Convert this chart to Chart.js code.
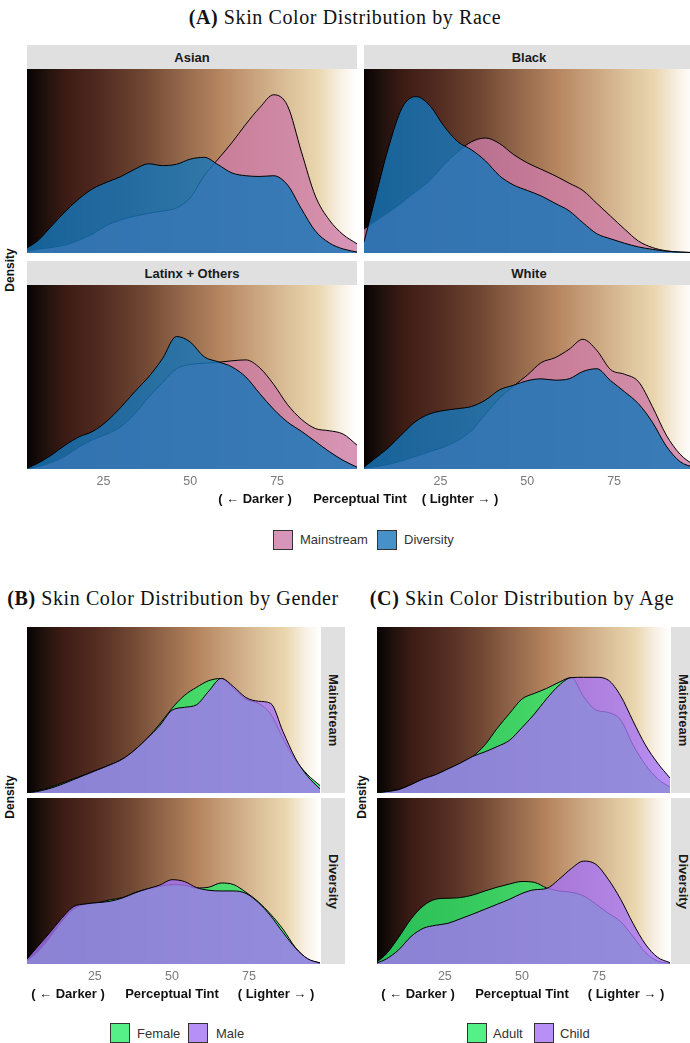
<!DOCTYPE html>
<html>
<head>
<meta charset="utf-8">
<script src="https://cdn.jsdelivr.net/npm/chart.js@4.4.0/dist/chart.umd.min.js"></script>
<style>
body { margin:0; width:690px; height:1043px; overflow:hidden; background:#fff; position:relative; font-family:"Liberation Sans", Arial, sans-serif; }
canvas { position:absolute; }
.title { position:absolute; font-family:"Liberation Serif", serif; font-size:20px; letter-spacing:0.6px; color:#111; white-space:nowrap; transform:translate(-50%,-50%); }
.strip { position:absolute; background:#e0e0e0; font-weight:bold; font-size:13px; color:#1a1a1a; display:flex; align-items:center; justify-content:center; white-space:nowrap; }
.vstrip { writing-mode:vertical-rl; }
.ylab { position:absolute; font-weight:bold; font-size:12px; color:#111; white-space:nowrap; transform:translate(-50%,-50%) rotate(-90deg); }
.xlab { position:absolute; font-weight:bold; font-size:13px; color:#111; white-space:nowrap; transform:translate(-50%,-50%); }
.key { position:absolute; width:18px; height:18px; border:1px solid #333; }
.ltxt { position:absolute; font-size:13px; color:#333; white-space:nowrap; transform:translateY(-50%); }
</style>
</head>
<body>
<script>
// perceptual tint grid (x) and density (fraction of panel height)
const tint = [3, 6, 10, 14, 18, 22, 26, 30, 34, 38, 42, 46, 50, 54, 58, 62, 66, 70, 74, 78, 82, 86, 90, 94, 98];
const tickValues = [25, 50, 75];

// (A) by race
const asianMainstream = [0.01, 0.02, 0.03, 0.043, 0.07, 0.105, 0.15, 0.18, 0.2, 0.215, 0.228, 0.245, 0.3, 0.42, 0.51, 0.6, 0.7, 0.79, 0.86, 0.8, 0.55, 0.31, 0.18, 0.1, 0.05];
const asianDiversity = [0.027, 0.065, 0.145, 0.225, 0.295, 0.35, 0.385, 0.415, 0.455, 0.485, 0.475, 0.482, 0.51, 0.52, 0.48, 0.435, 0.42, 0.416, 0.42, 0.37, 0.24, 0.12, 0.055, 0.022, 0.005];
const blackMainstream = [0.13, 0.17, 0.22, 0.275, 0.335, 0.395, 0.48, 0.55, 0.605, 0.625, 0.595, 0.536, 0.49, 0.455, 0.42, 0.38, 0.34, 0.27, 0.2, 0.13, 0.065, 0.03, 0.012, 0.005, 0.002];
const blackDiversity = [0.06, 0.28, 0.57, 0.79, 0.85, 0.8, 0.69, 0.605, 0.56, 0.5, 0.42, 0.37, 0.34, 0.31, 0.27, 0.23, 0.165, 0.105, 0.077, 0.053, 0.033, 0.02, 0.01, 0.005, 0.002];
const latinxMainstream = [0.0, 0.012, 0.035, 0.07, 0.12, 0.16, 0.19, 0.23, 0.3, 0.39, 0.47, 0.545, 0.568, 0.575, 0.58, 0.588, 0.593, 0.55, 0.46, 0.35, 0.27, 0.22, 0.208, 0.19, 0.13];
const latinxDiversity = [0.004, 0.03, 0.075, 0.13, 0.175, 0.205, 0.26, 0.335, 0.42, 0.5, 0.6, 0.72, 0.69, 0.61, 0.583, 0.555, 0.5, 0.41, 0.325, 0.255, 0.205, 0.15, 0.095, 0.047, 0.01];
const whiteMainstream = [0.004, 0.012, 0.025, 0.045, 0.07, 0.095, 0.12, 0.155, 0.21, 0.3, 0.385, 0.45, 0.51, 0.578, 0.605, 0.65, 0.705, 0.645, 0.54, 0.515, 0.475, 0.34, 0.185, 0.08, 0.02];
const whiteDiversity = [0.01, 0.055, 0.115, 0.19, 0.26, 0.3, 0.318, 0.328, 0.34, 0.375, 0.43, 0.455, 0.48, 0.49, 0.483, 0.49, 0.53, 0.545, 0.48, 0.42, 0.355, 0.255, 0.125, 0.04, 0.008];

// (B) by gender
const mainFemale = [0.004, 0.012, 0.03, 0.057, 0.085, 0.112, 0.142, 0.17, 0.205, 0.26, 0.33, 0.415, 0.51, 0.587, 0.637, 0.677, 0.69, 0.63, 0.565, 0.54, 0.475, 0.33, 0.2, 0.11, 0.045];
const mainMale = [0.0, 0.008, 0.025, 0.05, 0.08, 0.11, 0.14, 0.17, 0.205, 0.26, 0.33, 0.405, 0.498, 0.516, 0.532, 0.615, 0.69, 0.64, 0.575, 0.553, 0.54, 0.37, 0.21, 0.1, 0.025];
const divFemale = [0.02, 0.065, 0.15, 0.25, 0.33, 0.36, 0.37, 0.387, 0.4, 0.43, 0.452, 0.467, 0.478, 0.475, 0.458, 0.463, 0.488, 0.478, 0.432, 0.375, 0.3, 0.21, 0.1, 0.03, 0.006];
const divMale = [0.03, 0.095, 0.18, 0.27, 0.345, 0.362, 0.37, 0.378, 0.398, 0.428, 0.453, 0.475, 0.508, 0.497, 0.46, 0.444, 0.44, 0.44, 0.425, 0.37, 0.29, 0.19, 0.097, 0.032, 0.006];

// (C) by age
const mainAdult = [0.004, 0.01, 0.022, 0.05, 0.085, 0.11, 0.145, 0.18, 0.22, 0.29, 0.39, 0.48, 0.566, 0.6, 0.63, 0.667, 0.695, 0.58, 0.5, 0.485, 0.44, 0.29, 0.17, 0.085, 0.035];
const mainChild = [0.0, 0.008, 0.02, 0.05, 0.085, 0.11, 0.145, 0.18, 0.22, 0.248, 0.28, 0.318, 0.394, 0.475, 0.568, 0.648, 0.695, 0.697, 0.697, 0.68, 0.585, 0.434, 0.29, 0.18, 0.09];
const divAdult = [0.012, 0.06, 0.16, 0.27, 0.35, 0.39, 0.396, 0.4, 0.415, 0.44, 0.463, 0.482, 0.497, 0.492, 0.458, 0.44, 0.432, 0.41, 0.36, 0.305, 0.255, 0.165, 0.07, 0.018, 0.003];
const divChild = [0.006, 0.03, 0.085, 0.165, 0.215, 0.233, 0.245, 0.272, 0.3, 0.33, 0.36, 0.39, 0.425, 0.447, 0.455, 0.51, 0.575, 0.62, 0.6, 0.51, 0.39, 0.245, 0.12, 0.04, 0.008];

const pink = 'rgba(205,124,167,0.8)';
const blue = 'rgba(22,118,186,0.82)';
const green = 'rgba(42,236,106,0.8)';
const purple = 'rgba(165,115,245,0.8)';

const skinStops = [[0, '#050202'], [0.05, '#1e100c'], [0.12, '#3d1c15'], [0.22, '#512a20'], [0.35, '#6f4632'],
  [0.48, '#966a4c'], [0.58, '#b5845e'], [0.68, '#c7a07a'], [0.8, '#dcc29c'], [0.88, '#ead6ae'], [0.95, '#f8f0e4'], [1, '#ffffff']];

const skinBackground = {
  id: 'skinBackground',
  beforeDraw(chart) {
    const {ctx, chartArea: a} = chart;
    const g = ctx.createLinearGradient(a.left, 0, a.right, 0);
    skinStops.forEach(s => g.addColorStop(s[0], s[1]));
    ctx.save();
    ctx.fillStyle = g;
    ctx.fillRect(a.left, a.top, a.right - a.left, a.bottom - a.top);
    ctx.restore();
  }
};

function el(cls, html, css) {
  const d = document.createElement('div');
  d.className = cls;
  d.innerHTML = html;
  Object.assign(d.style, css);
  document.body.appendChild(d);
  return d;
}

function panel(left, top, width, height, under, over, withTicks) {
  const h = height + (withTicks ? 22 : 0);
  const box = document.createElement('div');
  Object.assign(box.style, {position: 'absolute', left: left + 'px', top: top + 'px', width: width + 'px', height: h + 'px'});
  document.body.appendChild(box);
  const cv = document.createElement('canvas');
  box.appendChild(cv);
  const ds = (vals, color, order) => ({
    data: tint.map((x, i) => ({x: x, y: vals[i]})),
    backgroundColor: color, borderColor: '#000', borderWidth: 1,
    fill: 'origin', pointRadius: 0, cubicInterpolationMode: 'monotone', order: order
  });
  new Chart(cv, {
    type: 'line',
    data: {datasets: [ds(under[0], under[1], 2), ds(over[0], over[1], 1)]},
    options: {
      responsive: true, maintainAspectRatio: false, animation: false, events: [],
      layout: {padding: 0},
      plugins: {legend: {display: false}, tooltip: {enabled: false}},
      scales: {
        x: {
          type: 'linear', min: 3, max: 98, display: withTicks,
          grid: {display: false, drawTicks: false}, border: {display: false},
          afterBuildTicks: s => { s.ticks = tickValues.map(v => ({value: v})); },
          afterFit: s => { if (withTicks) s.height = 22; },
          ticks: {padding: 5, color: '#7a7a7a', font: {size: 12.5, family: '"Liberation Sans", Arial, sans-serif'}}
        },
        y: {min: 0, max: 1, display: false}
      }
    },
    plugins: [skinBackground]
  });
}

// ---- (A) race ----
el('title', '<b>(A)</b> Skin Color Distribution by Race', {left: '345px', top: '17px'});
el('strip', 'Asian', {left: '27px', top: '45px', width: '330px', height: '24px'});
el('strip', 'Black', {left: '364px', top: '45px', width: '330px', height: '24px'});
el('strip', 'Latinx + Others', {left: '27px', top: '261px', width: '330px', height: '24px'});
el('strip', 'White', {left: '364px', top: '261px', width: '330px', height: '24px'});
panel(27, 69, 330, 184, [asianMainstream, pink], [asianDiversity, blue], false);
panel(364, 69, 330, 184, [blackMainstream, pink], [blackDiversity, blue], false);
panel(27, 285, 330, 184, [latinxMainstream, pink], [latinxDiversity, blue], true);
panel(364, 285, 330, 184, [whiteMainstream, pink], [whiteDiversity, blue], true);
el('ylab', 'Density', {left: '10px', top: '270px'});
el('xlab', '( ← Darker )', {left: '255px', top: '498px'});
el('xlab', 'Perceptual Tint', {left: '360px', top: '498px'});
el('xlab', '( Lighter → )', {left: '460px', top: '498px'});
el('key', '', {left: '273px', top: '530px', background: 'rgba(205,124,167,0.8)'});
el('ltxt', 'Mainstream', {left: '300px', top: '539px'});
el('key', '', {left: '377px', top: '530px', background: 'rgba(22,118,186,0.8)'});
el('ltxt', 'Diversity', {left: '404px', top: '539px'});

// ---- (B) gender ----
el('title', '<b>(B)</b> Skin Color Distribution by Gender', {left: '173px', top: '598px'});
panel(27, 627, 293, 166, [mainFemale, green], [mainMale, purple], false);
panel(27, 798, 293, 166, [divFemale, green], [divMale, purple], true);
el('strip vstrip', 'Mainstream', {left: '321px', top: '627px', width: '24px', height: '166px'});
el('strip vstrip', 'Diversity', {left: '321px', top: '798px', width: '24px', height: '166px'});
el('ylab', 'Density', {left: '10px', top: '797px'});
el('xlab', '( ← Darker )', {left: '68px', top: '993px'});
el('xlab', 'Perceptual Tint', {left: '172px', top: '993px'});
el('xlab', '( Lighter → )', {left: '276px', top: '993px'});
el('key', '', {left: '110px', top: '1023px', background: 'rgba(42,236,106,0.8)'});
el('ltxt', 'Female', {left: '137px', top: '1033px'});
el('key', '', {left: '188px', top: '1023px', background: 'rgba(165,115,245,0.8)'});
el('ltxt', 'Male', {left: '216px', top: '1033px'});

// ---- (C) age ----
el('title', '<b>(C)</b> Skin Color Distribution by Age', {left: '522px', top: '598px'});
panel(377, 627, 293, 166, [mainAdult, green], [mainChild, purple], false);
panel(377, 798, 293, 166, [divAdult, green], [divChild, purple], true);
el('strip vstrip', 'Mainstream', {left: '671px', top: '627px', width: '24px', height: '166px'});
el('strip vstrip', 'Diversity', {left: '671px', top: '798px', width: '24px', height: '166px'});
el('ylab', 'Density', {left: '362px', top: '797px'});
el('xlab', '( ← Darker )', {left: '418px', top: '993px'});
el('xlab', 'Perceptual Tint', {left: '522px', top: '993px'});
el('xlab', '( Lighter → )', {left: '626px', top: '993px'});
el('key', '', {left: '467px', top: '1023px', background: 'rgba(42,236,106,0.8)'});
el('ltxt', 'Adult', {left: '493px', top: '1033px'});
el('key', '', {left: '534px', top: '1023px', background: 'rgba(165,115,245,0.8)'});
el('ltxt', 'Child', {left: '560px', top: '1033px'});
</script>
</body>
</html>
